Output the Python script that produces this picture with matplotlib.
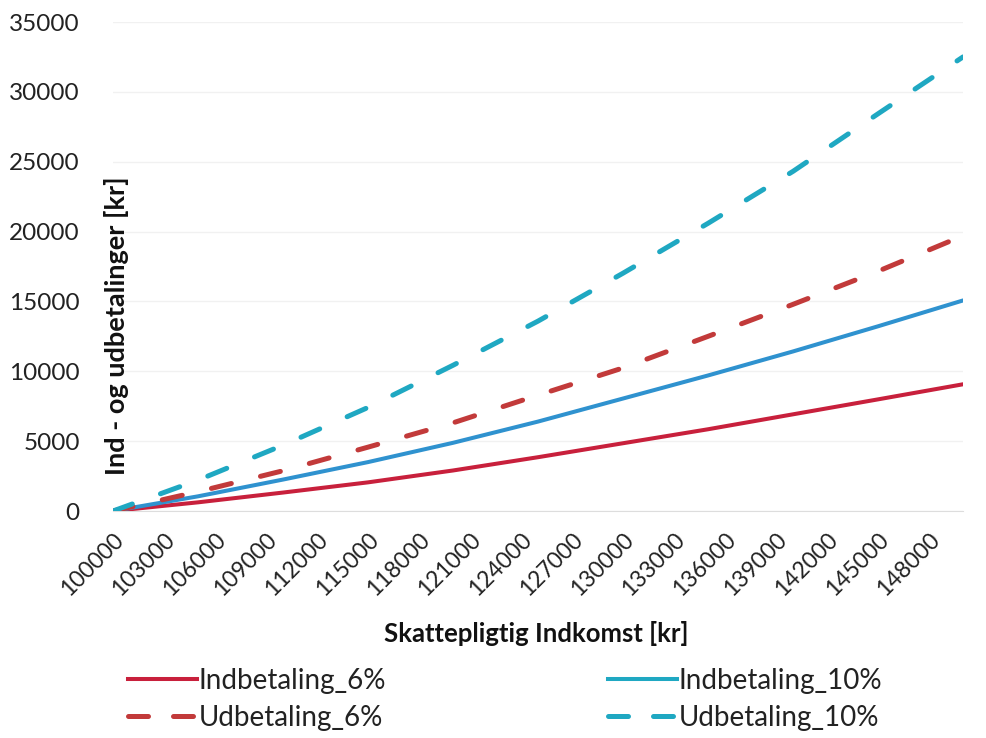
import matplotlib
matplotlib.use("Agg")
import matplotlib.pyplot as plt
from matplotlib.lines import Line2D

plt.rcParams['font.family'] = ['Lato', 'DejaVu Sans']

# Data (values every 5000 kr)
income = [100000, 105000, 110000, 115000, 120000, 125000, 130000, 135000, 140000, 145000, 150000]
indbetaling_6 = [0, 620, 1320, 2050, 2900, 3850, 4850, 5850, 6920, 7990, 9070]
indbetaling_10 = [0, 1050, 2250, 3500, 4880, 6400, 8050, 9700, 11420, 13220, 15070]
udbetaling_6 = [0, 1380, 2880, 4570, 6310, 8290, 10240, 12500, 14790, 17160, 19700]
udbetaling_10 = [0, 2210, 4710, 7410, 10430, 13590, 17020, 20590, 24310, 28430, 32500]

x_ticks = list(range(100000, 150000, 3000))
y_ticks = [0, 5000, 10000, 15000, 20000, 25000, 30000, 35000]

c_red = '#c8203c'
c_red_d = '#c23a3a'
c_blue = '#2f92cf'
c_teal = '#1fa8c2'

fig = plt.figure(figsize=(9.87, 7.38), dpi=100)
ax = fig.add_axes([113/987, 1-511/738, (963-113)/987, (511-22)/738])

lw_s = 2.9
lw_d = 3.6
ax.plot(income, indbetaling_6, color=c_red, lw=lw_s, solid_capstyle='round', zorder=3)
ax.plot(income, indbetaling_10, color=c_blue, lw=lw_s, solid_capstyle='round', zorder=3)
ax.plot(income, udbetaling_6, color=c_red_d, lw=lw_d, dashes=(4.1, 6.0),
        dash_capstyle='round', zorder=3)
ax.plot(income, udbetaling_10, color=c_teal, lw=lw_d, dashes=(4.1, 6.0),
        dash_capstyle='round', zorder=3)

ax.set_xlim(100000, 150000)
ax.set_ylim(0, 35000)
ax.set_xticks(x_ticks)
ax.set_xticklabels([str(t) for t in x_ticks], rotation=45, ha='right', va='top',
                   rotation_mode='anchor', fontsize=16.5, color='#222222')
ax.set_yticks(y_ticks)
ax.set_yticklabels([str(t) for t in y_ticks], fontsize=17.5, color='#222222')
ax.tick_params(axis='x', length=0, pad=13)
ax.tick_params(axis='y', length=0, pad=24)
ax.grid(axis='y', color='#f1f1f1', lw=1.0)
ax.set_axisbelow(True)
for s in ['top', 'right', 'left']:
    ax.spines[s].set_visible(False)
ax.spines['bottom'].set_color('#dddddd')

fig.text(117/987, 1-326/738, 'Ind - og udbetalinger [kr]', rotation=90,
         ha='center', va='center', fontsize=19.5, fontweight='bold', color='#111111')
fig.text(536/987, 1-633/738, 'Skattepligtig Indkomst [kr]', ha='center', va='center',
         fontsize=18.5, fontweight='bold', color='#111111')

h1 = Line2D([], [], color=c_red, lw=lw_s)
h2 = Line2D([], [], color=c_red_d, lw=lw_d, dashes=(4.0, 5.0), dash_capstyle='round')
h3 = Line2D([], [], color=c_teal, lw=lw_s)
h4 = Line2D([], [], color=c_teal, lw=lw_d, dashes=(4.0, 5.0), dash_capstyle='round')

leg_kw = dict(frameon=False, fontsize=20, handlelength=2.5, handletextpad=0.05,
              labelspacing=0.38, borderaxespad=0, borderpad=0)
l1 = fig.legend([h1, h2], ['Indbetaling_6%', 'Udbetaling_6%'], loc='upper left',
                bbox_to_anchor=(128/987, 1-668/738), **leg_kw)
l2 = fig.legend([h3, h4], ['Indbetaling_10%', 'Udbetaling_10%'], loc='upper left',
                bbox_to_anchor=(608/987, 1-668/738), **leg_kw)
for l in (l1, l2):
    for t in l.get_texts():
        t.set_color('#222222')

fig.savefig('out.png', dpi=100)
